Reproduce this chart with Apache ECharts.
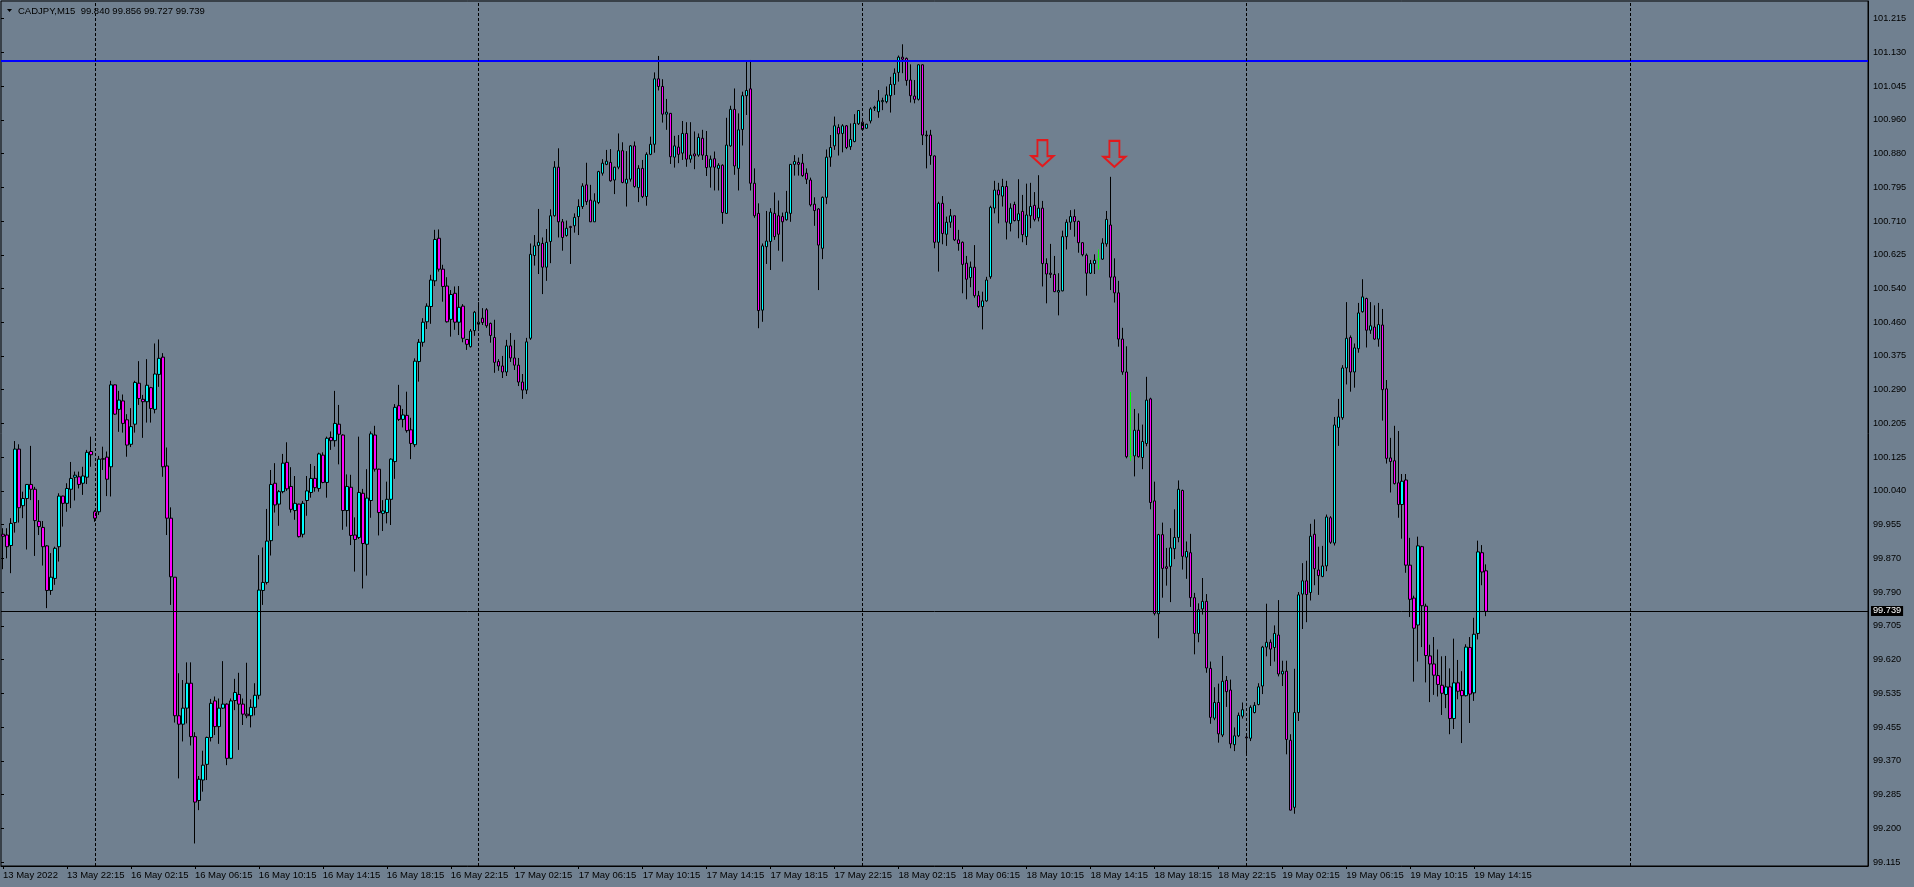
<!DOCTYPE html>
<html><head><meta charset="utf-8">
<script src="https://cdn.jsdelivr.net/npm/echarts@6/dist/echarts.min.js"></script>
<style>html,body{margin:0;padding:0;background:#708090;}#c{width:1914px;height:887px;}</style>
</head><body><div id="c"></div>
<script>
const symbolName = 'CADJPY,M15';
const xTickLabels = ['13 May 2022','13 May 22:15','16 May 02:15','16 May 06:15','16 May 10:15','16 May 14:15','16 May 18:15','16 May 22:15','17 May 02:15','17 May 06:15','17 May 10:15','17 May 14:15','17 May 18:15','17 May 22:15','18 May 02:15','18 May 06:15','18 May 10:15','18 May 14:15','18 May 18:15','18 May 22:15','19 May 02:15','19 May 06:15','19 May 10:15','19 May 14:15'];
const yTickLabels = ['99.115','99.200','99.285','99.370','99.455','99.535','99.620','99.705','99.790','99.870','99.955','100.040','100.125','100.205','100.290','100.375','100.460','100.540','100.625','100.710','100.795','100.880','100.960','101.045','101.130','101.215'];

const opens = [
99.931,99.929,99.903,99.960,100.143,100.002,100.020,100.055,100.043,99.963,
99.948,99.902,99.791,99.821,99.900,100.026,100.008,100.043,100.073,100.074,
100.058,100.073,100.137,99.987,99.987,100.119,100.123,100.099,100.303,100.242,
100.263,100.216,100.155,100.205,100.307,100.267,100.261,100.296,100.242,100.329,
100.372,100.101,99.971,99.824,99.479,99.458,99.498,99.560,99.427,99.268,
99.319,99.358,99.425,99.516,99.452,99.498,99.508,99.373,99.517,99.532,
99.508,99.483,99.479,99.500,99.530,99.791,99.811,99.915,100.058,100.006,
100.037,100.110,100.050,99.990,100.006,99.931,100.015,100.035,100.070,100.045,
100.128,100.060,100.172,100.164,100.205,100.178,99.990,100.048,99.929,99.923,
100.033,99.906,100.015,100.178,100.093,99.983,99.985,100.018,100.112,100.251,
100.217,100.227,100.191,100.154,100.361,100.409,100.460,100.498,100.562,100.668,
100.591,100.549,100.466,100.531,100.459,100.499,100.416,100.398,100.438,100.454,
100.469,100.490,100.456,100.421,100.361,100.350,100.335,100.400,100.370,100.352,
100.310,100.290,100.419,100.625,100.650,100.655,100.596,100.660,100.724,100.845,
100.709,100.675,100.697,100.699,100.722,100.747,100.801,100.763,100.709,100.757,
100.830,100.852,100.857,100.813,100.845,100.886,100.805,100.815,100.898,100.794,
100.842,100.772,100.877,100.902,101.065,101.046,100.977,100.979,100.870,100.895,
100.880,100.929,100.865,100.878,100.875,100.917,100.874,100.845,100.866,100.842,
100.850,100.730,100.898,100.989,100.842,100.939,101.023,101.040,100.805,100.730,
100.489,100.647,100.660,100.730,100.724,100.722,100.714,100.730,100.852,100.857,
100.855,100.830,100.813,100.753,100.741,100.643,100.770,100.870,100.898,100.944,
100.929,100.948,100.896,100.909,100.953,100.957,100.942,100.960,100.992,100.983,
101.008,101.008,101.023,101.051,101.081,101.119,101.116,101.062,101.022,101.014,
101.100,100.925,100.925,100.873,100.658,100.755,100.678,100.708,100.724,100.664,
100.658,100.606,100.570,100.596,100.525,100.498,100.512,100.572,100.743,100.788,
100.773,100.797,100.705,100.752,100.712,100.735,100.672,100.724,100.750,100.719,
100.743,100.605,100.581,100.578,100.534,100.537,100.672,100.708,100.722,100.710,
100.657,100.626,100.581,100.605,100.616,100.616,100.654,100.701,100.572,100.532,
100.417,100.335,100.124,100.126,100.190,100.122,100.157,100.268,100.014,99.733,
99.930,99.850,99.851,99.895,99.923,100.040,99.874,99.885,99.773,99.684,
99.745,99.764,99.597,99.473,99.512,99.431,99.567,99.543,99.407,99.429,
99.478,99.426,99.423,99.487,99.507,99.553,99.650,99.662,99.649,99.680,
99.583,99.590,99.418,99.251,99.487,99.782,99.815,99.786,99.931,99.842,
99.826,99.852,99.972,99.909,100.197,100.221,100.345,100.421,100.335,100.393,
100.485,100.518,100.439,100.447,100.417,100.452,100.293,100.121,100.114,100.059,
100.005,100.066,99.854,99.772,99.705,99.900,99.752,99.628,99.608,99.579,
99.555,99.532,99.551,99.472,99.561,99.542,99.529,99.649,99.536,99.684,
99.885,99.840];

const highs = [
99.946,99.946,99.971,100.163,100.155,100.037,100.056,100.151,100.049,100.016,
99.964,99.904,99.884,99.900,100.033,100.027,100.058,100.111,100.087,100.087,
100.099,100.141,100.174,99.991,100.126,100.149,100.137,100.313,100.304,100.288,
100.279,100.230,100.245,100.313,100.362,100.278,100.367,100.298,100.406,100.416,
100.382,100.147,99.998,99.824,99.585,99.568,99.612,99.612,99.438,99.329,
99.392,99.427,99.521,99.527,99.522,99.615,99.510,99.522,99.571,99.586,
99.522,99.611,99.520,99.560,99.879,99.898,99.994,100.091,100.108,100.041,
100.131,100.160,100.098,100.076,100.007,100.014,100.076,100.106,100.101,100.134,
100.135,100.174,100.187,100.288,100.253,100.180,100.080,100.079,99.973,100.174,
100.044,100.093,100.187,100.201,100.094,100.016,100.062,100.120,100.255,100.303,
100.243,100.286,100.221,100.369,100.417,100.469,100.506,100.577,100.689,100.690,
100.602,100.571,100.539,100.548,100.549,100.504,100.417,100.442,100.487,100.509,
100.494,100.494,100.458,100.465,100.367,100.375,100.415,100.432,100.415,100.370,
100.330,100.420,100.655,100.676,100.741,100.670,100.691,100.740,100.860,100.892,
100.716,100.712,100.699,100.730,100.765,100.805,100.856,100.801,100.780,100.836,
100.865,100.888,100.890,100.846,100.929,100.907,100.885,100.900,100.909,100.850,
100.863,100.882,100.921,101.081,101.122,101.064,101.015,100.980,100.923,100.925,
100.960,100.957,100.957,100.934,100.929,100.938,100.935,100.874,100.884,100.855,
100.852,100.968,100.998,101.041,100.979,101.033,101.108,101.112,100.842,100.755,
100.655,100.736,100.743,100.782,100.762,100.732,100.786,100.853,100.875,100.869,
100.878,100.842,100.819,100.770,100.743,100.772,100.889,100.925,100.971,100.952,
100.952,100.950,100.954,100.977,100.987,100.963,100.953,100.994,100.998,101.037,
101.018,101.046,101.070,101.091,101.123,101.151,101.118,101.101,101.062,101.101,
101.101,100.936,100.938,100.874,100.759,100.773,100.722,100.741,100.724,100.689,
100.660,100.624,100.610,100.651,100.537,100.535,100.572,100.749,100.811,100.806,
100.816,100.811,100.755,100.759,100.815,100.776,100.804,100.806,100.783,100.825,
100.761,100.618,100.654,100.624,100.581,100.687,100.715,100.738,100.740,100.712,
100.658,100.630,100.614,100.628,100.640,100.668,100.736,100.821,100.618,100.562,
100.445,100.399,100.285,100.243,100.232,100.204,100.323,100.271,100.062,99.932,
99.960,99.897,99.946,99.993,100.065,100.042,99.913,99.932,99.785,99.759,
99.822,99.782,99.614,99.550,99.559,99.628,99.578,99.569,99.450,99.487,
99.512,99.433,99.505,99.513,99.560,99.653,99.758,99.669,99.704,99.767,
99.616,99.616,99.433,99.596,99.787,99.859,99.865,99.957,99.968,99.900,
99.902,99.980,99.976,100.223,100.268,100.352,100.509,100.426,100.406,100.507,
100.566,100.520,100.509,100.501,100.507,100.492,100.315,100.171,100.201,100.188,
100.081,100.081,99.922,99.778,99.925,99.902,99.758,99.656,99.675,99.644,
99.627,99.628,99.597,99.671,99.618,99.590,99.657,99.675,99.723,99.915,
99.904,99.856];

const lows = [
99.844,99.871,99.834,99.935,99.960,99.971,99.893,100.016,99.877,99.929,
99.853,99.747,99.780,99.805,99.863,99.950,99.987,99.996,100.015,100.045,
100.029,100.056,100.099,99.962,99.979,100.091,100.026,100.025,100.228,100.186,
100.184,100.124,100.148,100.184,100.253,100.171,100.209,100.209,100.232,100.298,
100.074,99.929,99.755,99.462,99.323,99.415,99.460,99.405,99.161,99.244,
99.290,99.319,99.415,99.431,99.409,99.496,99.356,99.371,99.493,99.394,
99.456,99.473,99.450,99.480,99.520,99.755,99.806,99.878,99.985,99.952,
100.033,100.039,99.985,99.967,99.923,99.923,99.977,100.022,100.037,100.037,
100.058,100.022,100.141,100.149,100.105,99.942,99.950,99.904,99.838,99.919,
99.796,99.828,99.972,100.087,99.928,99.939,99.958,99.954,100.069,100.213,
100.197,100.184,100.118,100.148,100.311,100.398,100.442,100.455,100.549,100.585,
100.510,100.458,100.423,100.440,100.427,100.409,100.390,100.396,100.425,100.444,
100.452,100.445,100.408,100.333,100.338,100.320,100.325,100.360,100.340,100.300,
100.268,100.280,100.415,100.600,100.579,100.529,100.562,100.606,100.722,100.670,
100.637,100.672,100.604,100.682,100.676,100.741,100.751,100.709,100.709,100.753,
100.824,100.850,100.809,100.778,100.840,100.805,100.747,100.809,100.794,100.758,
100.768,100.749,100.875,100.881,101.036,100.956,100.938,100.853,100.844,100.855,
100.863,100.846,100.856,100.840,100.871,100.863,100.823,100.794,100.787,100.787,
100.704,100.729,100.896,100.826,100.787,100.899,100.975,100.787,100.719,100.444,
100.460,100.604,100.589,100.664,100.637,100.610,100.712,100.709,100.824,100.824,
100.821,100.803,100.747,100.699,100.539,100.616,100.753,100.846,100.888,100.874,
100.882,100.890,100.888,100.907,100.950,100.936,100.941,100.954,100.985,100.968,
100.987,101.004,100.981,101.025,101.058,101.079,101.048,101.006,101.004,101.011,
100.900,100.842,100.851,100.643,100.585,100.653,100.649,100.694,100.661,100.637,
100.531,100.516,100.546,100.520,100.495,100.441,100.510,100.567,100.730,100.705,
100.747,100.665,100.685,100.710,100.668,100.658,100.651,100.693,100.710,100.710,
100.548,100.506,100.569,100.534,100.476,100.536,100.640,100.689,100.672,100.632,
100.623,100.525,100.579,100.579,100.590,100.614,100.647,100.539,100.508,100.398,
100.328,100.120,100.113,100.075,100.122,100.093,100.150,99.993,99.729,99.672,
99.773,99.803,99.762,99.869,99.911,99.843,99.820,99.750,99.632,99.662,
99.731,99.586,99.459,99.468,99.412,99.426,99.501,99.398,99.391,99.426,
99.472,99.382,99.416,99.485,99.505,99.533,99.627,99.603,99.614,99.577,
99.553,99.383,99.243,99.235,99.466,99.695,99.712,99.766,99.804,99.780,
99.824,99.839,99.907,99.903,100.151,100.216,100.304,100.286,100.296,100.383,
100.483,100.396,100.430,100.415,100.398,100.214,100.107,100.035,100.055,99.972,
99.920,99.835,99.725,99.564,99.614,99.650,99.562,99.513,99.531,99.527,
99.481,99.498,99.433,99.446,99.520,99.411,99.527,99.461,99.516,99.669,
99.804,99.727];

const closes = [
99.926,99.900,99.958,100.143,99.997,100.020,100.055,100.043,99.965,99.950,
99.900,99.791,99.824,99.896,100.026,100.008,100.045,100.070,100.078,100.055,
100.076,100.135,100.129,99.971,100.118,100.118,100.068,100.303,100.230,100.265,
100.207,100.153,100.199,100.309,100.269,100.261,100.302,100.244,100.330,100.369,
100.099,99.971,99.825,99.479,99.458,99.498,99.560,99.427,99.264,99.321,
99.356,99.425,99.510,99.452,99.498,99.508,99.373,99.516,99.537,99.508,
99.483,99.479,99.500,99.530,99.792,99.811,99.914,100.055,100.004,100.037,
100.108,100.044,99.993,100.008,99.925,100.008,100.039,100.070,100.047,100.131,
100.060,100.170,100.164,100.207,100.180,99.990,100.050,99.928,99.918,100.035,
99.908,100.021,100.181,100.093,99.985,99.989,100.018,100.118,100.247,100.217,
100.228,100.189,100.157,100.362,100.409,100.459,100.499,100.564,100.665,100.591,
100.548,100.460,100.528,100.459,100.496,100.419,100.404,100.437,100.484,100.459,
100.458,100.450,100.426,100.359,100.350,100.335,100.400,100.370,100.352,100.310,
100.290,100.410,100.628,100.649,100.658,100.596,100.658,100.724,100.845,100.709,
100.670,100.693,100.695,100.720,100.747,100.798,100.759,100.709,100.761,100.834,
100.855,100.860,100.811,100.845,100.886,100.807,100.815,100.898,100.797,100.842,
100.772,100.877,100.902,101.065,101.046,100.977,100.982,100.871,100.898,100.877,
100.929,100.865,100.875,100.873,100.919,100.875,100.844,100.865,100.845,100.850,
100.732,100.900,100.989,100.848,100.938,101.023,101.036,100.805,100.724,100.488,
100.649,100.661,100.733,100.672,100.678,100.709,100.733,100.852,100.859,100.852,
100.824,100.815,100.751,100.737,100.651,100.770,100.870,100.894,100.948,100.928,
100.948,100.894,100.914,100.954,100.986,100.939,100.952,100.990,100.994,101.010,
101.011,101.025,101.051,101.079,101.119,101.114,101.061,101.023,101.014,101.100,
100.925,100.923,100.874,100.658,100.755,100.680,100.708,100.724,100.664,100.655,
100.603,100.566,100.596,100.525,100.498,100.512,100.564,100.745,100.788,100.776,
100.797,100.708,100.743,100.712,100.729,100.677,100.726,100.747,100.715,100.743,
100.605,100.579,100.578,100.535,100.538,100.672,100.708,100.722,100.710,100.657,
100.627,100.581,100.605,100.613,100.616,100.656,100.715,100.571,100.532,100.417,
100.335,100.124,100.124,100.190,100.124,100.162,100.265,100.010,99.734,99.930,
99.846,99.846,99.897,99.923,100.043,99.876,99.888,99.773,99.684,99.743,
99.764,99.598,99.475,99.512,99.434,99.565,99.539,99.409,99.429,99.480,
99.494,99.424,99.500,99.505,99.551,99.650,99.662,99.645,99.684,99.583,
99.590,99.420,99.244,99.487,99.780,99.815,99.781,99.926,99.845,99.828,
99.852,99.974,99.911,100.203,100.223,100.345,100.419,100.335,100.395,100.482,
100.522,100.439,100.450,100.417,100.453,100.291,100.120,100.112,100.057,100.005,
100.063,99.854,99.769,99.697,99.902,99.753,99.629,99.608,99.580,99.557,
99.535,99.551,99.472,99.561,99.540,99.529,99.650,99.533,99.682,99.887,
99.837,99.739];

const bidPrice = 99.739;
const levelPrice = 101.108;
const separatorBars = [23, 119, 215, 311, 407];
const arrowBars = [260, 278];
const arrowPrices = [100.880, 100.878];

const TOTAL_SLOTS = 467;
const Y_MIN = 99.1049, Y_MAX = 101.2588;
const FONT = '"Liberation Sans", Arial, sans-serif';
const ARROW_PATH = 'path://M6,0 L16,0 L16,16 L22,16 L11,26 L0,16 L6,16 Z';

const categories = Array.from({length: TOTAL_SLOTS}, (_, i) => String(i));
const ohlc = opens.map((o, i) => [o, closes[i], lows[i], highs[i]]);
const n = opens.length;
const tickFilter = (index) => index % 16 === 0 && index < n;
const header = symbolName + '  ' + [opens[n-1], highs[n-1], lows[n-1], closes[n-1]].map(v => v.toFixed(3)).join(' ');

const chart = echarts.init(document.getElementById('c'), null, {renderer: 'canvas'});
chart.setOption({
  animation: false,
  backgroundColor: '#708090',
  grid: [
    {left: 1, right: 46, top: 1, bottom: 21, show: true, borderColor: '#000', borderWidth: 1, backgroundColor: 'transparent'},
    {left: 1, right: 46, top: 18.6, bottom: 25, show: false}
  ],
  xAxis: [
    {type: 'category', gridIndex: 0, data: categories, boundaryGap: true,
     axisLine: {show: true, lineStyle: {color: '#000', width: 1}},
     axisTick: {show: true, alignWithLabel: true, interval: tickFilter, length: 3, lineStyle: {color: '#000'}},
     axisLabel: {show: true, interval: tickFilter, align: 'left', margin: 4, color: '#000', fontSize: 9.5, fontFamily: FONT,
       formatter: (v) => xTickLabels[Number(v) / 16] || ''},
     splitLine: {show: false}},
    {type: 'value', gridIndex: 1, min: 0, max: 1, show: false}
  ],
  yAxis: [
    {type: 'value', gridIndex: 0, position: 'right', min: Y_MIN, max: Y_MAX,
     axisLine: {show: true, lineStyle: {color: '#000'}}, axisTick: {show: false}, axisLabel: {show: false}, splitLine: {show: false}},
    {type: 'value', gridIndex: 1, position: 'right', min: 0, max: 25, interval: 1,
     axisLine: {show: false}, axisTick: {show: true, length: 3, lineStyle: {color: '#000'}},
     axisLabel: {margin: 5, color: '#000', fontSize: 9.2, fontFamily: FONT, formatter: (v) => yTickLabels[v] || ''},
     splitLine: {show: false}}
  ],
  graphic: [
    {type: 'polygon', shape: {points: [[7, 9], [12, 9], [9.5, 12]]}, style: {fill: '#000'}, silent: true},
    {type: 'text', x: 18, y: 11, style: {text: header, fill: '#000', font: '9.5px ' + FONT, textVerticalAlign: 'middle'}, silent: true}
  ],
  series: [
    {type: 'candlestick', xAxisIndex: 0, yAxisIndex: 0, data: ohlc, barWidth: 3, clip: false,
     itemStyle: {color: '#00FFFF', color0: '#FF00FF', borderColor: '#000', borderColor0: '#000', borderColorDoji: '#00FF00', borderWidth: 1},
     markLine: {silent: true, symbol: ['none', 'none'], animation: false,
       data: [
         {yAxis: levelPrice, lineStyle: {color: '#0000FF', width: 2, type: 'solid'}, label: {show: false}},
         {yAxis: bidPrice, lineStyle: {color: '#000', width: 1, type: 'solid'},
          label: {show: true, position: 'end', distance: 3, formatter: bidPrice.toFixed(3), backgroundColor: '#000', color: '#fff', padding: [1, 2, 0, 2], fontSize: 9.2, fontFamily: FONT}}
       ].concat(separatorBars.map(b => ({xAxis: b, lineStyle: {color: '#000', width: 1, type: [3, 2]}, label: {show: false}})))
     }},
    {type: 'scatter', xAxisIndex: 0, yAxisIndex: 0, data: arrowBars.map((b, i) => [b, arrowPrices[i]]),
     symbol: ARROW_PATH, symbolSize: [22, 26], silent: true,
     itemStyle: {color: 'rgba(0,0,0,0)', borderColor: '#FF0000', borderWidth: 2}}
  ]
});
</script>
</body></html>
